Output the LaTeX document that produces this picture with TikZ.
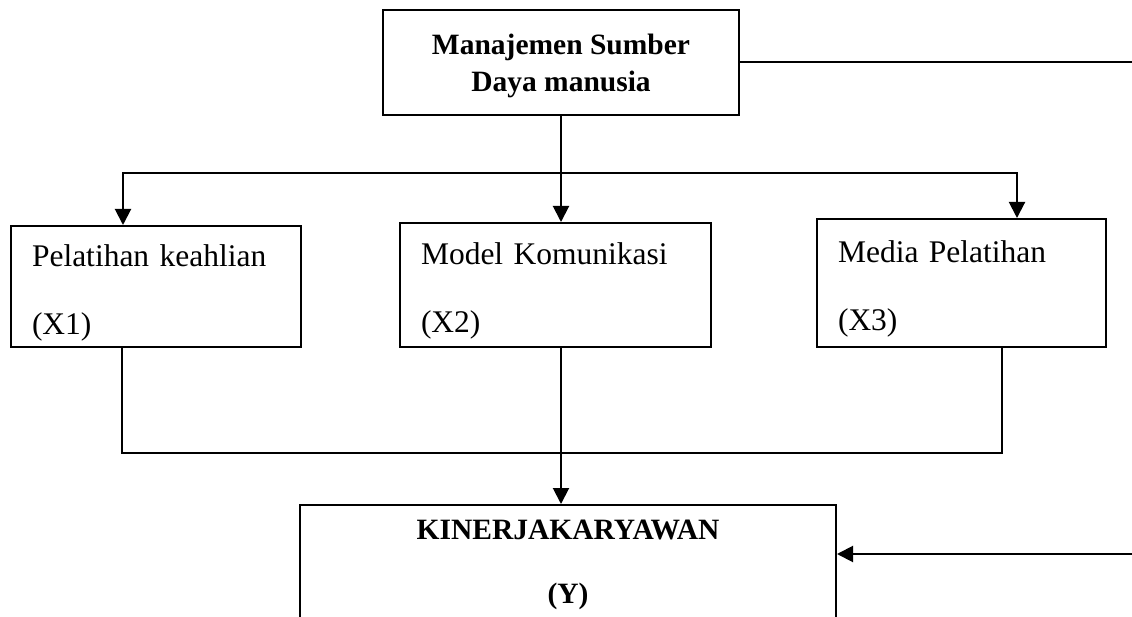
\documentclass[tikz,border=0pt]{standalone}
\usepackage{fontspec}
\setmainfont{Liberation Serif}
\usetikzlibrary{arrows.meta}

\begin{document}
\begin{tikzpicture}[x=1pt,y=-1pt,line width=2pt,>={Triangle[length=16pt,width=16pt]},
  titlebox/.style={draw,align=center,inner sep=0pt,font=\bfseries\fontsize{29.5}{37}\selectfont},
  varbox/.style={draw,align=left,inner xsep=21pt,inner ysep=0pt,font=\fontsize{31.5}{68}\selectfont}]
\clip (0,0) rectangle (1132,617);
\node[titlebox,minimum width=356pt,minimum height=105pt] (msdm) at (561,62.5) {\rule{0pt}{28pt}Manajemen Sumber\\Daya manusia};
\node[varbox,text width=248pt,minimum height=121pt] (x1) at (156,286.5) {\rule{0pt}{34pt}Pelatihan keahlian\\(X1)};
\node[varbox,text width=269pt,minimum height=124pt] (x2) at (555.5,285) {\rule{0pt}{34pt}Model Komunikasi\\(X2)};
\node[varbox,text width=247pt,minimum height=128pt] (x3) at (961.5,283) {\rule{0pt}{34pt}Media Pelatihan\\(X3)};
\node[titlebox,font=\bfseries\fontsize{29.5}{64}\selectfont,minimum width=536pt,minimum height=120pt] (kinerja) at (568,565) {KINERJAKARYAWAN\\(Y)};
\coordinate (fork) at (561,173);
\coordinate (join) at (561,453);
\coordinate (rtop) at (1132,62.5);
\coordinate (rbot) at (1132,554);
\draw[->] (msdm.south) -- (msdm.south |- x2.north);
\draw[->] (fork) -| ([xshift=-33pt]x1.north);
\draw[->] (fork) -| ([xshift=55.5pt]x3.north);
\draw ([xshift=-34pt]x1.south) |- (join) -| ([xshift=40.5pt]x3.south);
\draw[->] (x2.south -| join) -- (join |- kinerja.north);
\draw (msdm.east) -- (rtop);
\draw[->] (rbot) -- (rbot -| kinerja.east);
\end{tikzpicture}
\end{document}
